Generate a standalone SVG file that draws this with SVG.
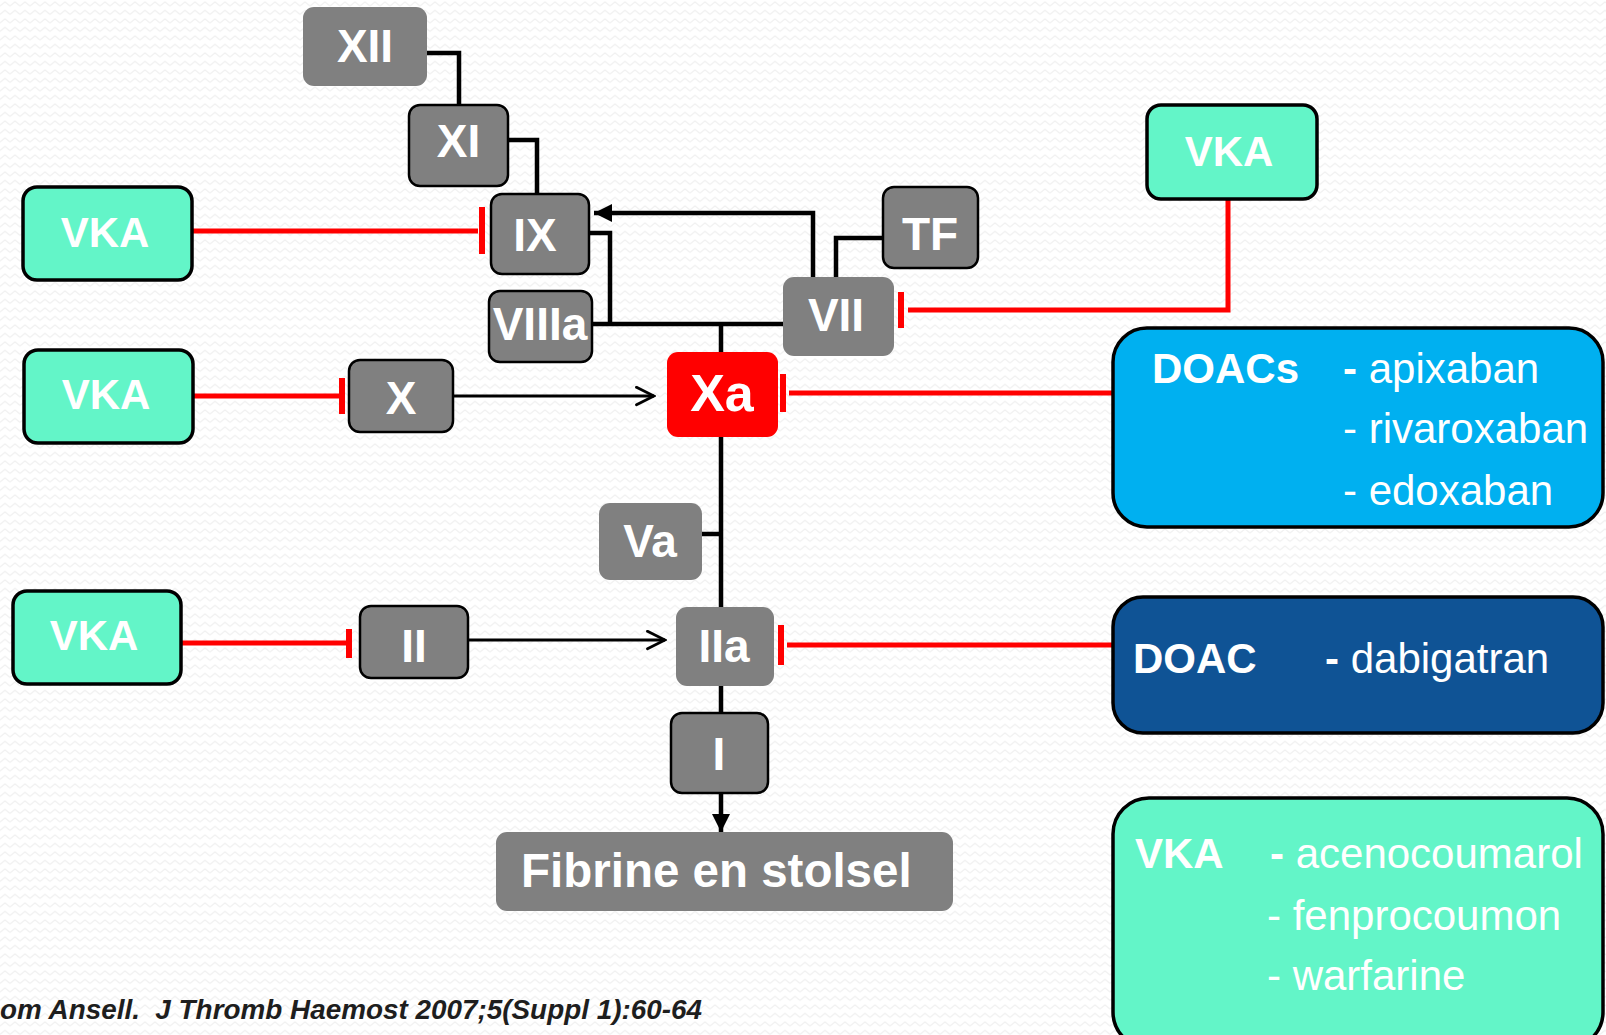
<svg xmlns="http://www.w3.org/2000/svg" width="1606" height="1035" viewBox="0 0 1606 1035">
<defs>
<style>
.g{fill:#808080}
.gs{fill:#808080;stroke:#000;stroke-width:2.5}
.vka{fill:#63f5c8;stroke:#000;stroke-width:3.5}
.lbl{font-family:"Liberation Sans",Arial,sans-serif;font-weight:bold;fill:#fff;text-anchor:middle}
.t{font-family:"Liberation Sans",Arial,sans-serif;fill:#fff;font-size:42px}
.b{font-weight:bold}
.k{fill:none;stroke:#000;stroke-width:4.5}
.kt{fill:none;stroke:#000;stroke-width:3}
.r{fill:none;stroke:#ff0000;stroke-width:5}
.rb{fill:none;stroke:#ff0000;stroke-width:6}
</style>
<pattern id="bgp" width="10" height="8.5" patternUnits="userSpaceOnUse">
<path d="M0,6 L5,2 L10,6" fill="none" stroke="#efefef" stroke-width="1.2"/>
</pattern>
<marker id="af" viewBox="0 0 10 10" refX="10" refY="5" markerWidth="4" markerHeight="4" orient="auto" markerUnits="strokeWidth">
<path d="M0,0 L10,5 L0,10 Z" fill="#000"/>
</marker>
<marker id="ao" viewBox="0 0 12 12" refX="11" refY="6" markerWidth="7" markerHeight="7" orient="auto" markerUnits="strokeWidth">
<path d="M1,1 L11,6 L1,11" fill="none" stroke="#000" stroke-width="1.6" stroke-linecap="round"/>
</marker>
</defs>
<rect width="1606" height="1035" fill="#ffffff"/>
<rect width="1606" height="1035" fill="url(#bgp)"/>

<g id="connectors">
<path class="k" d="M427,53 H459 V105"/>
<path class="k" d="M508,140 H537 V194"/>
<path class="k" d="M589,233 H610 V324"/>
<path class="k" d="M592,324 H783"/>
<path class="k" d="M721,324 V352"/>
<path class="k" d="M813,277 V213 H594" marker-end="url(#af)"/>
<path class="k" d="M883,238 H836 V277"/>
<path class="kt" d="M453,396 H654" marker-end="url(#ao)"/>
<path class="k" d="M721,437 V607"/>
<path class="k" d="M702,534 H721"/>
<path class="kt" d="M468,640 H665" marker-end="url(#ao)"/>
<path class="k" d="M721,686 V713"/>
<path class="k" d="M721,793 V832" marker-end="url(#af)"/>
<path class="r" d="M192,231 H478"/>
<path class="rb" d="M482,207 V254"/>
<path class="r" d="M189,396 H340"/>
<path class="rb" d="M342,378 V414"/>
<path class="r" d="M181,643 H347"/>
<path class="rb" d="M349,629 V658"/>
<path class="r" d="M1228,199 V310 H908"/>
<path class="rb" d="M901,292 V328"/>
<path class="r" d="M1113,393 H789"/>
<path class="rb" d="M783,374 V412"/>
<path class="r" d="M1113,645 H787"/>
<path class="rb" d="M781,625 V665"/>
</g>

<g id="XII"><rect class="g" x="303" y="7" width="124" height="79" rx="11"/><text class="lbl" x="365" y="62" font-size="46">XII</text></g>
<g id="XI"><rect class="gs" x="409" y="105" width="99" height="81" rx="11"/><text class="lbl" x="458.5" y="157" font-size="46">XI</text></g>
<g id="IX"><rect class="gs" x="491" y="194" width="98" height="80" rx="11"/><text class="lbl" x="535" y="251" font-size="46">IX</text></g>
<g id="VIIIa"><rect class="gs" x="489" y="291" width="103" height="71" rx="11"/><text class="lbl" x="540" y="340" font-size="46">VIIIa</text></g>
<g id="TF"><rect class="gs" x="883" y="187" width="95" height="81" rx="11"/><text class="lbl" x="930" y="250" font-size="46">TF</text></g>
<g id="VII"><rect class="g" x="783" y="277" width="111" height="79" rx="11"/><text class="lbl" x="836" y="331" font-size="46">VII</text></g>
<g id="Xa"><rect fill="#ff0000" x="667" y="352" width="111" height="85" rx="11"/><text class="lbl" x="722" y="411" font-size="52">Xa</text></g>
<g id="X"><rect class="gs" x="349" y="360" width="104" height="72" rx="11"/><text class="lbl" x="401" y="414" font-size="46">X</text></g>
<g id="Va"><rect class="g" x="599" y="503" width="103" height="77" rx="11"/><text class="lbl" x="650" y="557" font-size="46">Va</text></g>
<g id="II"><rect class="gs" x="360" y="606" width="108" height="72" rx="11"/><text class="lbl" x="414" y="662" font-size="46">II</text></g>
<g id="IIa"><rect class="g" x="676" y="607" width="98" height="79" rx="11"/><text class="lbl" x="724" y="662" font-size="46">IIa</text></g>
<g id="I"><rect class="gs" x="671" y="713" width="97" height="80" rx="11"/><text class="lbl" x="719" y="770" font-size="46">I</text></g>
<g id="fibrine"><rect class="g" x="496" y="832" width="457" height="79" rx="11"/><text class="lbl" x="521" y="887" font-size="47.5" style="text-anchor:start">Fibrine en stolsel</text></g>

<g id="vka1"><rect class="vka" x="23" y="187" width="169" height="93" rx="14"/><text class="lbl" x="105" y="247" font-size="42">VKA</text></g>
<g id="vka2"><rect class="vka" x="24" y="350" width="169" height="93" rx="14"/><text class="lbl" x="106" y="409" font-size="42">VKA</text></g>
<g id="vka3"><rect class="vka" x="13" y="591" width="168" height="93" rx="14"/><text class="lbl" x="94" y="650" font-size="42">VKA</text></g>
<g id="vka4"><rect class="vka" x="1147" y="105" width="170" height="94" rx="14"/><text class="lbl" x="1229" y="166" font-size="42">VKA</text></g>

<g id="doacs"><rect fill="#00b0f0" stroke="#000" stroke-width="3.5" x="1113" y="328" width="490" height="199" rx="34"/>
<text class="t b" x="1152" y="383">DOACs</text>
<text class="t" x="1343" y="383"><tspan class="b">-</tspan> apixaban</text>
<text class="t" x="1343" y="443">- rivaroxaban</text>
<text class="t" x="1343" y="505">- edoxaban</text></g>

<g id="doac"><rect fill="#0f5395" stroke="#000" stroke-width="3.5" x="1113" y="597" width="490" height="136" rx="30"/>
<text class="t b" x="1133" y="673">DOAC</text>
<text class="t" x="1325" y="673"><tspan class="b">-</tspan> dabigatran</text></g>

<g id="vkabig"><rect class="vka" x="1113" y="798" width="490" height="250" rx="36"/>
<text class="t b" x="1135" y="868">VKA</text>
<text class="t" x="1270" y="868"><tspan class="b">-</tspan> acenocoumarol</text>
<text class="t" x="1267" y="930">- fenprocoumon</text>
<text class="t" x="1267" y="990">- warfarine</text></g>

<text x="0" y="1019" font-family="Liberation Sans, Arial, sans-serif" font-weight="bold" font-style="italic" font-size="28" fill="#1e1e1e" textLength="702" lengthAdjust="spacingAndGlyphs" xml:space="preserve">om Ansell.  J Thromb Haemost 2007;5(Suppl 1):60-64</text>
</svg>
